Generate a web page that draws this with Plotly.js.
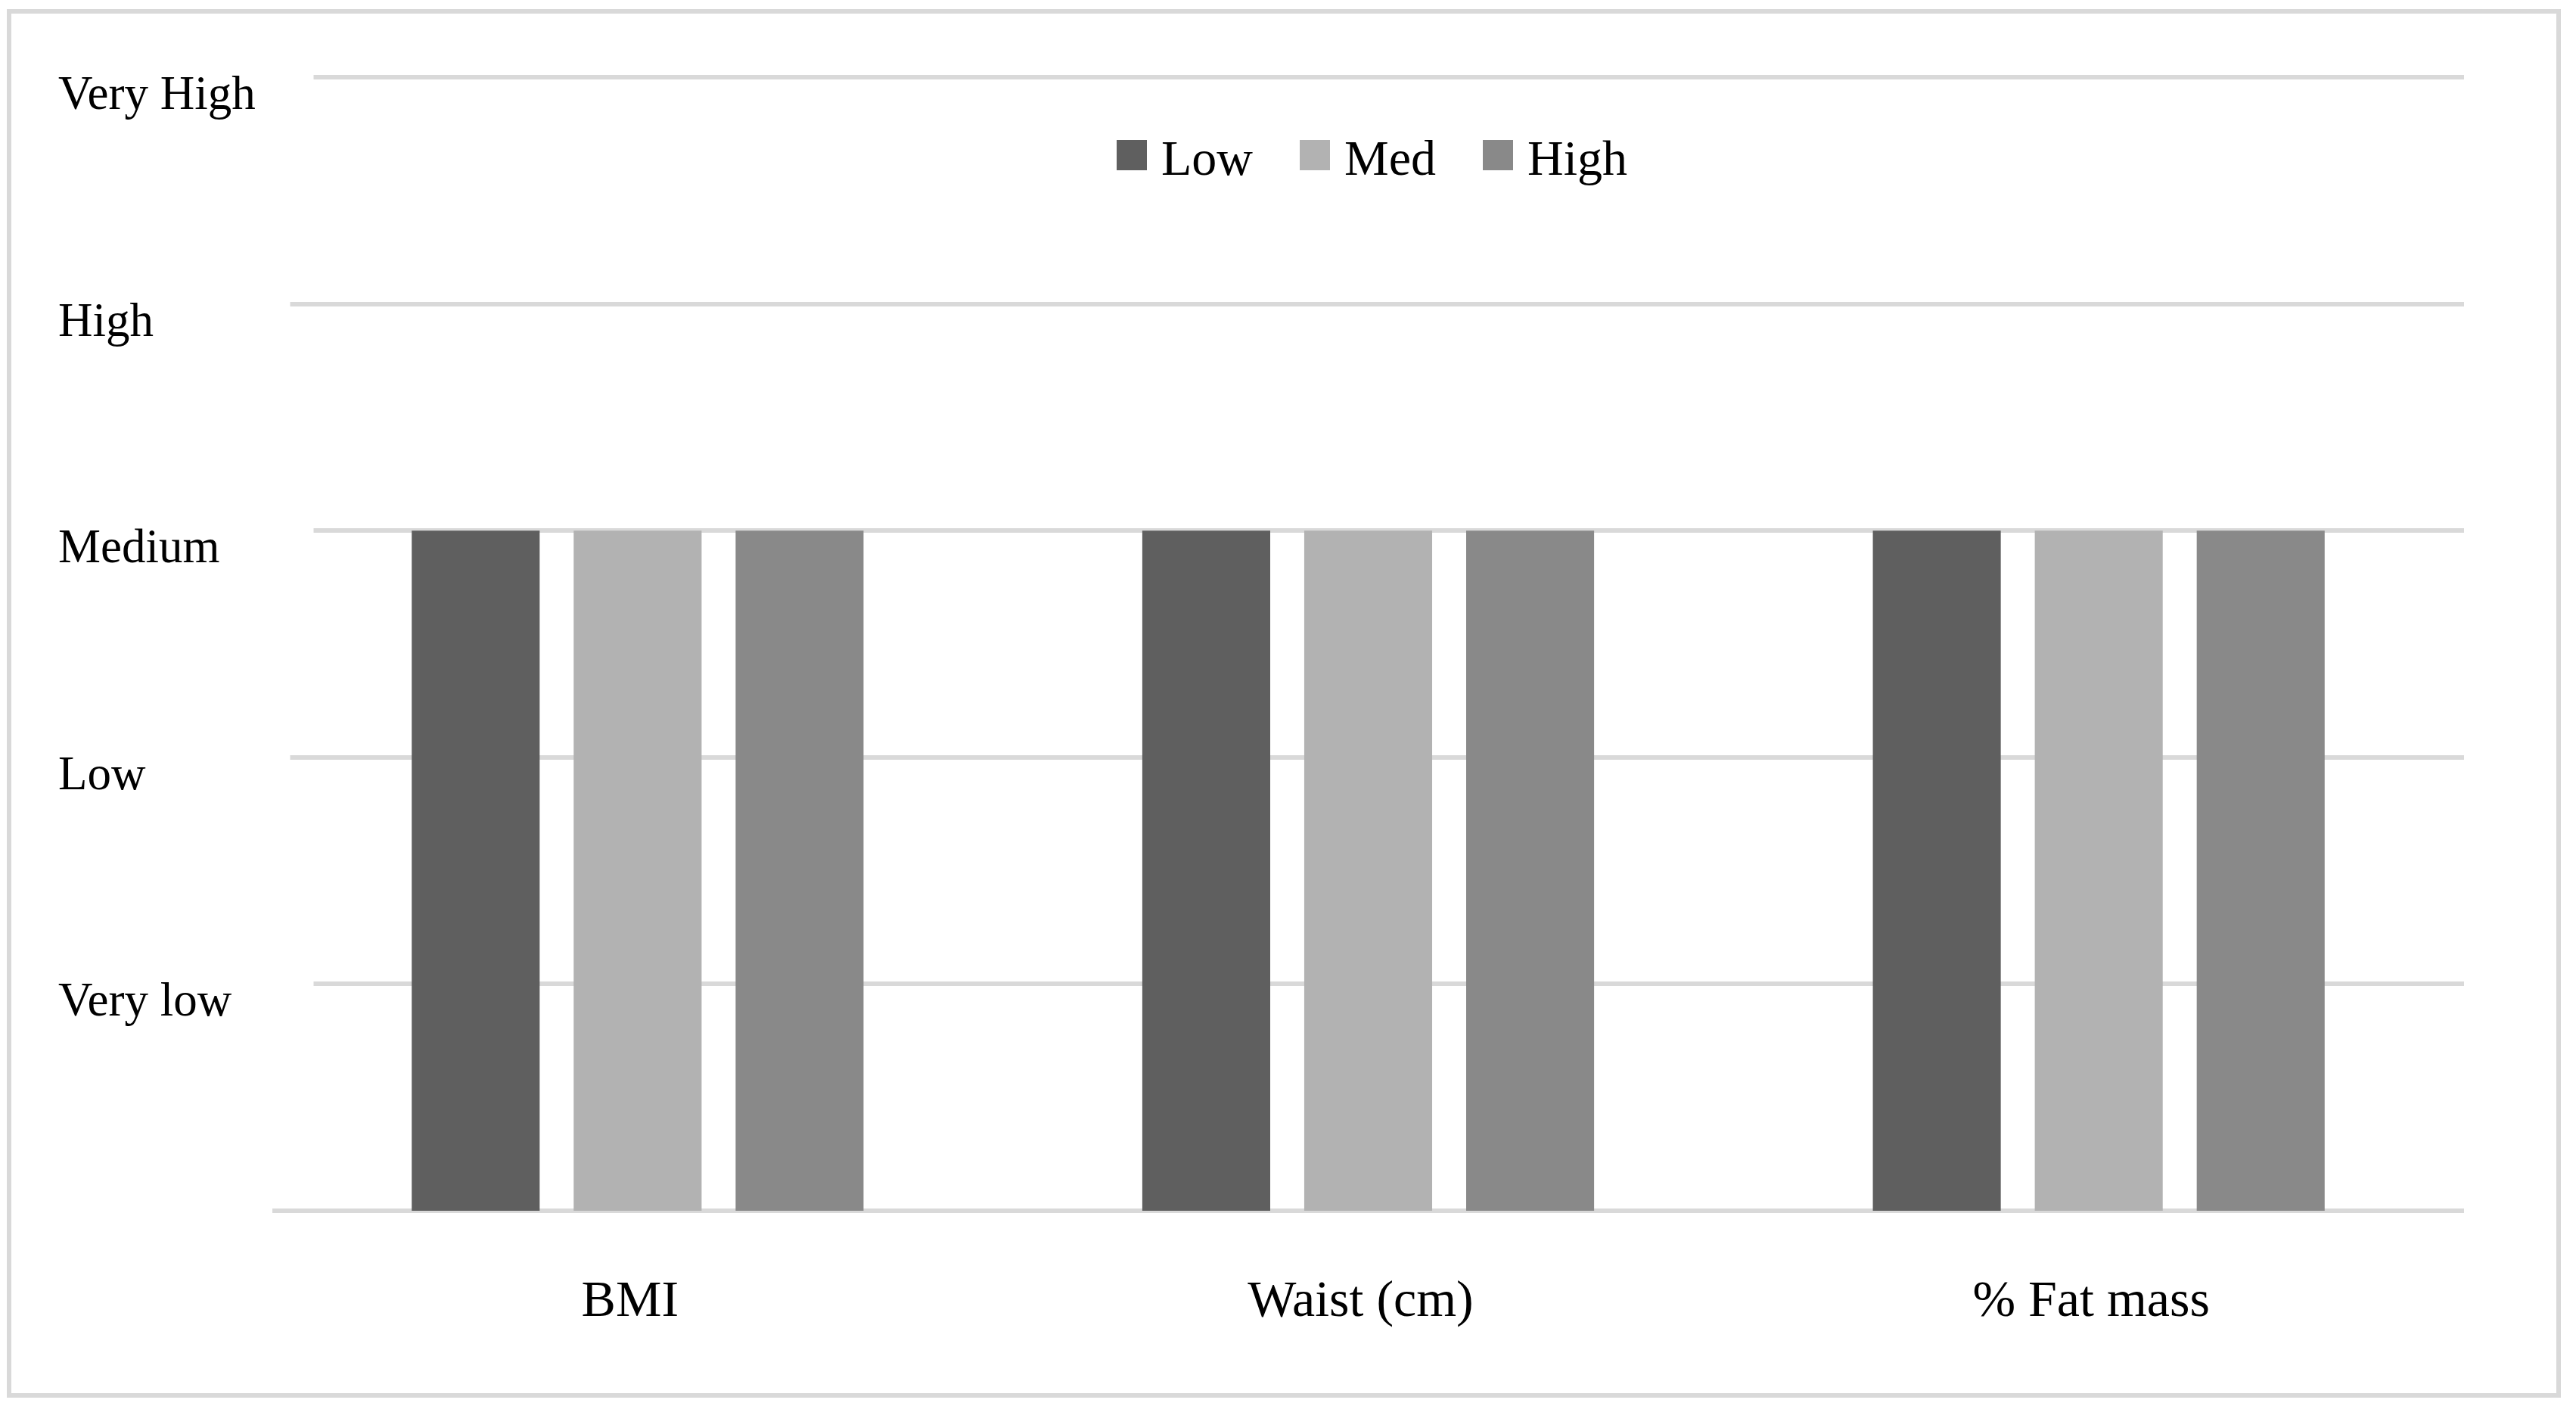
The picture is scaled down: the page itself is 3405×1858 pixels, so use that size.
<!DOCTYPE html>
<html>
<head>
<meta charset="utf-8">
<script src="https://cdn.plot.ly/plotly-3.0.1.min.js"></script>
<style>
  html, body { margin: 0; padding: 0; background: #fff; }
  #chart { width: 3405px; height: 1858px; }
  /* bigger square legend swatches, like the original chart */
  #chart .legendpoints path { d: path("M20,20H-20V-20H20Z"); }
</style>
</head>
<body>
<div id="chart"></div>
<script>
// Obesity indicators by exposure group, on an ordinal level scale.

const categories = ["BMI", "Waist (cm)", "% Fat mass"];
const lowValues = [3, 3, 3];
const medValues = [3, 3, 3];
const highValues = [3, 3, 3];
const seriesNames = ["Low", "Med", "High"];

const levelValues = [1, 2, 3, 4, 5];
const levelLabels = ["Very low", "Low", "Medium", "High", "Very High"];

const FONT = '"Liberation Serif", "Times New Roman", serif';
const GRID = "#d9d9d9";
const COLORS = { Low: "#5f5f5f", Med: "#b2b2b2", High: "#898989" };

const W = 3405, H = 1858;
const M = { l: 360, r: 148, t: 96, b: 258 };
const plotW = W - M.l - M.r;
const plotH = H - M.t - M.b;
const YMAX = 5.02; // a hair above the top level so its gridline is kept

// pixel -> paper helpers for the frame, legend and label boxes
const px = (x) => (x - M.l) / plotW;
const py = (y) => (H - M.b - y) / plotH;

const series = [lowValues, medValues, highValues];
const traces = series.map((vals, i) => ({
  type: "bar",
  name: seriesNames[i],
  x: categories,
  y: vals,
  marker: { color: COLORS[seriesNames[i]], line: { width: 0 } },
  hoverinfo: "skip",
}));

const annotations = levelLabels.map((txt, i) => ({
  text: txt,
  xref: "paper",
  yref: "y",
  x: px(76),
  y: levelValues[i],
  yshift: -21,
  xanchor: "left",
  yanchor: "middle",
  align: "left",
  width: txt.length > 4 ? 337 : 306,
  bgcolor: "#ffffff",
  borderpad: 0,
  showarrow: false,
  font: { family: FONT, size: 63, color: "#000" },
}));

const layout = {
  width: W,
  height: H,
  margin: M,
  paper_bgcolor: "#fff",
  plot_bgcolor: "#fff",
  font: { family: FONT, size: 62, color: "#000" },
  barmode: "group",
  bargap: 0.335,
  bargroupgap: 0.21,
  showlegend: true,
  legend: {
    orientation: "h",
    x: px(1457),
    xanchor: "left",
    y: py(205),
    yanchor: "middle",
    itemwidth: 68,
    entrywidth: 159,
    font: { family: FONT, size: 66, color: "#000" },
    bgcolor: "rgba(0,0,0,0)",
    itemclick: false,
    itemdoubleclick: false,
  },
  xaxis: {
    type: "category",
    showgrid: false,
    showline: false,
    zeroline: false,
    ticks: "",
    ticklabelstandoff: 70,
    ticklabelshift: -10,
    tickfont: { family: FONT, size: 68, color: "#000" },
  },
  yaxis: {
    range: [0, YMAX],
    tickvals: levelValues,
    showticklabels: false,
    showgrid: true,
    gridcolor: GRID,
    gridwidth: 6,
    zeroline: true,
    zerolinecolor: GRID,
    zerolinewidth: 6,
    showline: false,
    ticks: "",
    fixedrange: true,
  },
  shapes: [
    {
      type: "rect",
      xref: "paper",
      yref: "paper",
      x0: px(12),
      x1: px(3382),
      y0: py(1844),
      y1: py(15),
      line: { color: GRID, width: 6 },
      fillcolor: "rgba(0,0,0,0)",
      layer: "below",
    },
  ],
  annotations,
};

Plotly.newPlot("chart", traces, layout, { displayModeBar: false });
</script>
</body>
</html>
